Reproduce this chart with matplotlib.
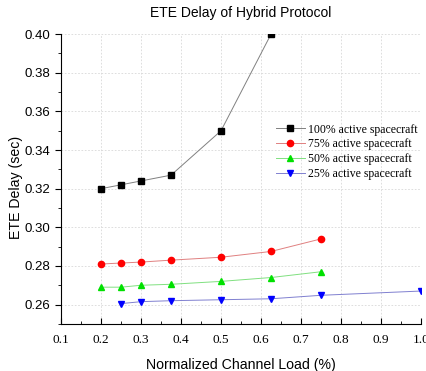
import matplotlib
matplotlib.use('Agg')
import matplotlib.pyplot as plt
from matplotlib.ticker import MultipleLocator

# Data
x_100 = [0.2, 0.25, 0.3, 0.375, 0.5, 0.625]
y_100 = [0.320, 0.322, 0.324, 0.327, 0.350, 0.400]

x_75 = [0.2, 0.25, 0.3, 0.375, 0.5, 0.625, 0.75]
y_75 = [0.281, 0.2815, 0.282, 0.283, 0.2845, 0.2875, 0.294]

x_50 = [0.2, 0.25, 0.3, 0.375, 0.5, 0.625, 0.75]
y_50 = [0.269, 0.269, 0.270, 0.2705, 0.272, 0.274, 0.277]

x_25 = [0.25, 0.3, 0.375, 0.5, 0.625, 0.75, 1.0]
y_25 = [0.2605, 0.2615, 0.262, 0.2625, 0.263, 0.2648, 0.267]

labels = ['100% active spacecraft', '75% active spacecraft',
          '50% active spacecraft', '25% active spacecraft']

fig = plt.figure(figsize=(4.27, 3.71), dpi=100)
ax = fig.add_axes([0.143, 0.127, 0.843, 0.781])

ax.plot(x_100, y_100, color='#808080', lw=0.7, marker='s', ms=4,
        mfc='black', mec='black', label=labels[0])
ax.plot(x_75, y_75, color='#e08080', lw=0.7, marker='o', ms=4.5,
        mfc='red', mec='red', label=labels[1])
ax.plot(x_50, y_50, color='#80e080', lw=0.7, marker='^', ms=5,
        mfc='#00e000', mec='#00e000', label=labels[2])
ax.plot(x_25, y_25, color='#8080d0', lw=0.7, marker='v', ms=5,
        mfc='blue', mec='blue', label=labels[3])

ax.set_xlim(0.1, 1.0)
ax.set_ylim(0.25, 0.40)
ax.xaxis.set_major_locator(MultipleLocator(0.1))
ax.xaxis.set_minor_locator(MultipleLocator(0.05))
ax.yaxis.set_major_locator(MultipleLocator(0.02))
ax.yaxis.set_minor_locator(MultipleLocator(0.01))

for s in ['top', 'right']:
    ax.spines[s].set_visible(False)

ax.tick_params(axis='x', which='both', direction='in', length=4, pad=7)
ax.tick_params(axis='x', which='minor', length=2.5)
ax.tick_params(axis='y', which='both', direction='out', length=4)
ax.tick_params(axis='y', which='minor', length=2.5)

ax.set_xticklabels([f'{v:.1f}' for v in ax.get_xticks()],
                   family='Liberation Serif', fontsize=9.5)
ax.set_yticklabels([f'{v:.2f}' for v in ax.get_yticks()],
                   family='Liberation Sans', fontsize=9.5)
ax.set_xlim(0.1, 1.0)
ax.set_ylim(0.25, 0.40)

ax.grid(True, ls=(0, (2, 2)), color='#d8d8d8', lw=0.6)

ax.set_title('ETE Delay of Hybrid Protocol', family='Liberation Sans',
             fontsize=10, pad=12)
ax.set_xlabel('Normalized Channel Load (%)', family='Liberation Sans',
              fontsize=10.2, labelpad=9)
ax.set_ylabel('ETE Delay (sec)', family='Liberation Sans', fontsize=10.2)
ax.yaxis.set_label_coords(-0.105, 0.47)

ax.legend(loc='upper left', bbox_to_anchor=(0.575, 0.72), frameon=False,
          prop={'family': 'Liberation Serif', 'size': 8.5},
          handlelength=2.4, labelspacing=0.25, borderpad=0.2,
          handletextpad=0.3)

fig.savefig('out.png', dpi=100)
